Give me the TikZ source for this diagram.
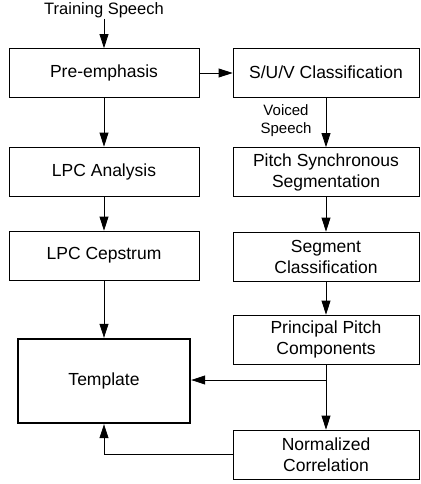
\documentclass[tikz,border=0pt]{standalone}
\usepackage{fontspec}
\setmainfont{Liberation Sans}
\usetikzlibrary{arrows.meta}
\begin{document}
\begin{tikzpicture}[x=1pt,y=-1pt,
 box/.style={draw, line width=0.8pt, inner sep=0pt, align=center, font=\fontsize{17.5}{21}\selectfont},
 lbox/.style={box, minimum width=190pt, minimum height=49pt},
 rbox/.style={box, minimum width=186pt, minimum height=49pt},
 arr/.style={-{Triangle[length=14pt,width=9pt]}, line width=0.8pt},
 lbl/.style={inner sep=1pt, align=center}]
\useasboundingbox (0,0) rectangle (420,484);
\node[lbl, font=\fontsize{16.5}{19}\selectfont] (train) at (104,10) {Training Speech};
\node[lbox] (pre) at (104,73) {Pre-emphasis};
\node[rbox] (suv) at (326,72.5) {S/U/V Classification};
\node[lbox] (lpca) at (104,171.5) {LPC Analysis};
\node[rbox] (pss) at (326,172) {Pitch Synchronous\\Segmentation};
\node[lbox] (lpcc) at (104,255.5) {LPC Cepstrum};
\node[rbox] (seg) at (326,256.5) {Segment\\Classification};
\node[rbox] (ppc) at (326,339.5) {Principal Pitch\\Components};
\node[box, line width=2.4pt, minimum width=172pt, minimum height=84pt] (tmp) at (104,381) {Template};
\node[rbox] (nc) at (326,454.5) {Normalized\\Correlation};
\node[lbl, font=\fontsize{15}{18}\selectfont] (voiced) at (286,121) {Voiced\\Speech};
\coordinate (j) at (326,380);
\draw[arr] (train) -- (pre);
\draw[arr] (pre.east) -- (pre.east -| suv.west);
\draw[arr] (pre) -- (lpca);
\draw[arr] (lpca) -- (lpcc);
\draw[arr] (lpcc) -- (tmp);
\draw[arr] (suv) -- (pss);
\draw[arr] (pss) -- (seg);
\draw[arr] (seg) -- (ppc);
\draw[arr] (ppc) -- (nc);
\draw[arr] (j) -- (j -| tmp.east);
\draw[arr] (nc.west) -| (tmp.south);
\end{tikzpicture}
\end{document}
